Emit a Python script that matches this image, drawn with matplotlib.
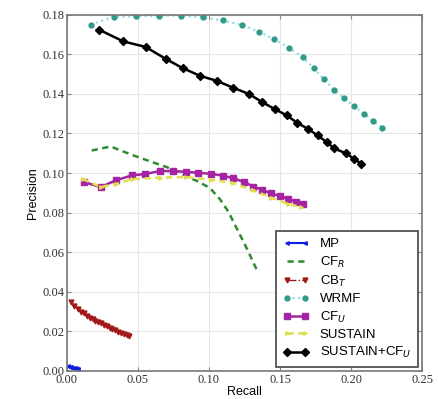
"""
Precision vs recall for the recommenders (read off the reference figure)
"""

import matplotlib
matplotlib.use("Agg")
import matplotlib.pyplot as plt

# recall / precision per method
mp_r = [0.001, 0.002, 0.003, 0.004, 0.005, 0.006, 0.007, 0.008]
mp_p = [0.0025, 0.0021, 0.0019, 0.0017, 0.0015, 0.0014, 0.0012, 0.0011]

cfr_r = [0.0174, 0.0308, 0.0456, 0.0573, 0.0702, 0.0796, 0.0843, 0.0925, 0.1007,
         0.1077, 0.1136, 0.1183, 0.1230, 0.1277, 0.1336]
cfr_p = [0.1114, 0.1134, 0.1092, 0.1062, 0.1030, 0.1003, 0.0982, 0.0957, 0.0924,
         0.0868, 0.0805, 0.0738, 0.0671, 0.0603, 0.0511]

cbt_r = [0.003, 0.005, 0.008, 0.010, 0.012, 0.014, 0.016, 0.018, 0.020, 0.022, 0.024,
         0.026, 0.028, 0.030, 0.032, 0.034, 0.036, 0.038, 0.040, 0.042, 0.044]
cbt_p = [0.0350, 0.0330, 0.0315, 0.0300, 0.0292, 0.0280, 0.0270, 0.0261, 0.0255, 0.0249,
         0.0240, 0.0232, 0.0225, 0.0218, 0.0211, 0.0205, 0.0199, 0.0191, 0.0185, 0.0180, 0.0175]

wrmf_r = [0.0167, 0.0331, 0.0486, 0.0646, 0.0803, 0.0958, 0.1099, 0.1232, 0.1352, 0.1458,
          0.1563, 0.1662, 0.1737, 0.1808, 0.1878, 0.1949, 0.2019, 0.2092, 0.2153, 0.2218]
wrmf_p = [0.1750, 0.1790, 0.1791, 0.1795, 0.1795, 0.1786, 0.1771, 0.1748, 0.1714, 0.1675,
          0.1633, 0.1584, 0.1530, 0.1475, 0.1422, 0.1379, 0.1339, 0.1300, 0.1264, 0.1230]

cfu_r = [0.0122, 0.0237, 0.0343, 0.0456, 0.0549, 0.0655, 0.0749, 0.0838, 0.0925, 0.1016,
         0.1096, 0.1171, 0.1249, 0.1312, 0.1375, 0.1437, 0.1500, 0.1558, 0.1611, 0.1664]
cfu_p = [0.0954, 0.0929, 0.0963, 0.0988, 0.0995, 0.1010, 0.1010, 0.1006, 0.1001, 0.0996,
         0.0987, 0.0974, 0.0954, 0.0932, 0.0915, 0.0897, 0.0884, 0.0870, 0.0856, 0.0843]

sus_r = [0.0110, 0.0237, 0.0343, 0.0456, 0.0655, 0.0838, 0.1016, 0.1171, 0.1312, 0.1437,
         0.1558, 0.1650]
sus_p = [0.0970, 0.0930, 0.0944, 0.0969, 0.0977, 0.0980, 0.0966, 0.0949, 0.0912, 0.0876,
         0.0844, 0.0828]

scf_r = [0.0227, 0.0396, 0.0554, 0.0697, 0.0815, 0.0937, 0.1054, 0.1167, 0.1282, 0.1371,
         0.1463, 0.1549, 0.1620, 0.1695, 0.1765, 0.1829, 0.1882, 0.1963, 0.2021, 0.2073]
scf_p = [0.1724, 0.1665, 0.1637, 0.1576, 0.1530, 0.1491, 0.1466, 0.1432, 0.1399, 0.1360,
         0.1323, 0.1291, 0.1254, 0.1224, 0.1190, 0.1156, 0.1124, 0.1100, 0.1072, 0.1047]

x_ticks = [0.00, 0.05, 0.10, 0.15, 0.20, 0.25]
y_ticks = [0.00, 0.02, 0.04, 0.06, 0.08, 0.10, 0.12, 0.14, 0.16, 0.18]


def main():
    fig = plt.figure(figsize=(4.39, 3.99), dpi=100)
    ax = fig.add_axes([0.1526, 0.0702, 0.8087, 0.8930])

    ax.plot(mp_r, mp_p, "-", color="#1020e0", lw=1.5, marker="<", ms=2.5, label="MP")
    ax.plot(cfr_r, cfr_p, "--", color="#2f8a2f", lw=1.8, dashes=(2.5, 1.8), label=r"CF$_R$")
    ax.plot(cbt_r, cbt_p, "-.", color="#a31818", lw=1, marker="v", ms=3.5, label=r"CB$_T$")
    ax.plot(wrmf_r, wrmf_p, ":", color="#8adcdc", lw=1.5, marker="o", ms=3.5,
            mfc="#2e9a88", mec="#2e9a88", label="WRMF")
    ax.plot(cfu_r, cfu_p, "-", color="#a424a4", lw=1.8, marker="s", ms=4, label=r"CF$_U$")
    ax.plot(sus_r, sus_p, "--", color="#e0df4a", lw=1.8, dashes=(2.5, 1.8), marker=">",
            ms=2.5, label="SUSTAIN")
    ax.plot(scf_r, scf_p, "-", color="black", lw=1.8, marker="D", ms=4,
            label=r"SUSTAIN+CF$_U$")

    ax.set_xlim(0, 0.25)
    ax.set_ylim(0, 0.18)
    ax.set_xticks(x_ticks)
    ax.set_yticks(y_ticks)
    ax.set_xticklabels(["%.2f" % v for v in x_ticks], family="Liberation Serif", fontsize=9)
    ax.set_yticklabels(["%.2f" % v for v in y_ticks], family="Liberation Serif", fontsize=9)
    ax.tick_params(direction="in", top=True, right=True, length=3, color="#888888",
                   labelcolor="#333333", pad=2)
    ax.grid(True, color="#e6e6e6", lw=0.8)
    for s in ax.spines.values():
        s.set_color("#777777")
        s.set_linewidth(1.2)

    ax.set_xlabel("Recall", family="Liberation Sans", fontsize=9, labelpad=0)
    ax.set_ylabel("Precision", family="Liberation Sans", fontsize=9, labelpad=2)

    leg = ax.legend(loc="lower right", numpoints=2, fancybox=False, framealpha=1,
                    prop={"family": "Liberation Sans", "size": 9.5},
                    handlelength=2.0, borderpad=0.5, labelspacing=0.32,
                    bbox_to_anchor=(1.0, 0.0), borderaxespad=0.3)
    leg.get_frame().set_edgecolor("#444444")
    leg.get_frame().set_linewidth(1.2)

    fig.savefig("out.png", dpi=100)


if __name__ == "__main__":
    main()
